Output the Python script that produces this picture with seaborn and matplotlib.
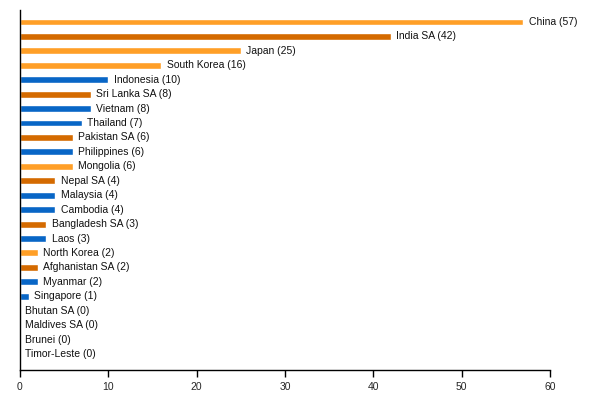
import pandas as pd
import matplotlib.pyplot as plt
import seaborn as sns

# data
countries = ["China", "India SA", "Japan", "South Korea", "Indonesia", "Sri Lanka SA",
             "Vietnam", "Thailand", "Pakistan SA", "Philippines", "Mongolia", "Nepal SA",
             "Malaysia", "Cambodia", "Bangladesh SA", "Laos", "North Korea",
             "Afghanistan SA", "Myanmar", "Singapore", "Bhutan SA", "Maldives SA",
             "Brunei", "Timor-Leste"]
values = [57, 42, 25, 16, 10, 8, 8, 7, 6, 6, 6, 4, 4, 4, 3, 3, 2, 2, 2, 1, 0, 0, 0, 0]
regions = ["East", "South", "East", "East", "SouthEast", "South", "SouthEast", "SouthEast",
           "South", "SouthEast", "East", "South", "SouthEast", "SouthEast", "South",
           "SouthEast", "East", "South", "SouthEast", "SouthEast", "South", "South",
           "SouthEast", "SouthEast"]
palette = {"East": "#ff9f27", "South": "#d46a00", "SouthEast": "#0866c6"}

df = pd.DataFrame({"country": countries, "value": values, "region": regions})

sns.set_style("white")
plt.rcParams['font.family'] = ['Liberation Sans', 'DejaVu Sans']

fig = plt.figure(figsize=(6.02, 4), dpi=100)
ax = fig.add_axes([0.0332, 0.075, 0.8804, 0.9])

sns.barplot(data=df, x="value", y="country", hue="region", palette=palette,
            dodge=False, width=0.48, legend=False, ax=ax, saturation=1)

for i, (c, v) in enumerate(zip(countries, values)):
    ax.text(v + 0.6, i, f"{c} ({v})", va="center", ha="left", fontsize=7.5, color="#111111")

ax.set_xlim(0, 60)
ax.set_ylim(len(countries) - 1 + 1.11, -0.83)
ax.set_xticks(range(0, 61, 10))
ax.set_yticks([])
ax.set_xlabel("")
ax.set_ylabel("")
for s in ["top", "right"]:
    ax.spines[s].set_visible(False)
for s in ["left", "bottom"]:
    ax.spines[s].set_color("black")
    ax.spines[s].set_linewidth(1)
ax.tick_params(axis="x", direction="out", length=5, width=1, color="black",
               labelsize=7.5, bottom=True)

fig.savefig("out.png", dpi=100)
